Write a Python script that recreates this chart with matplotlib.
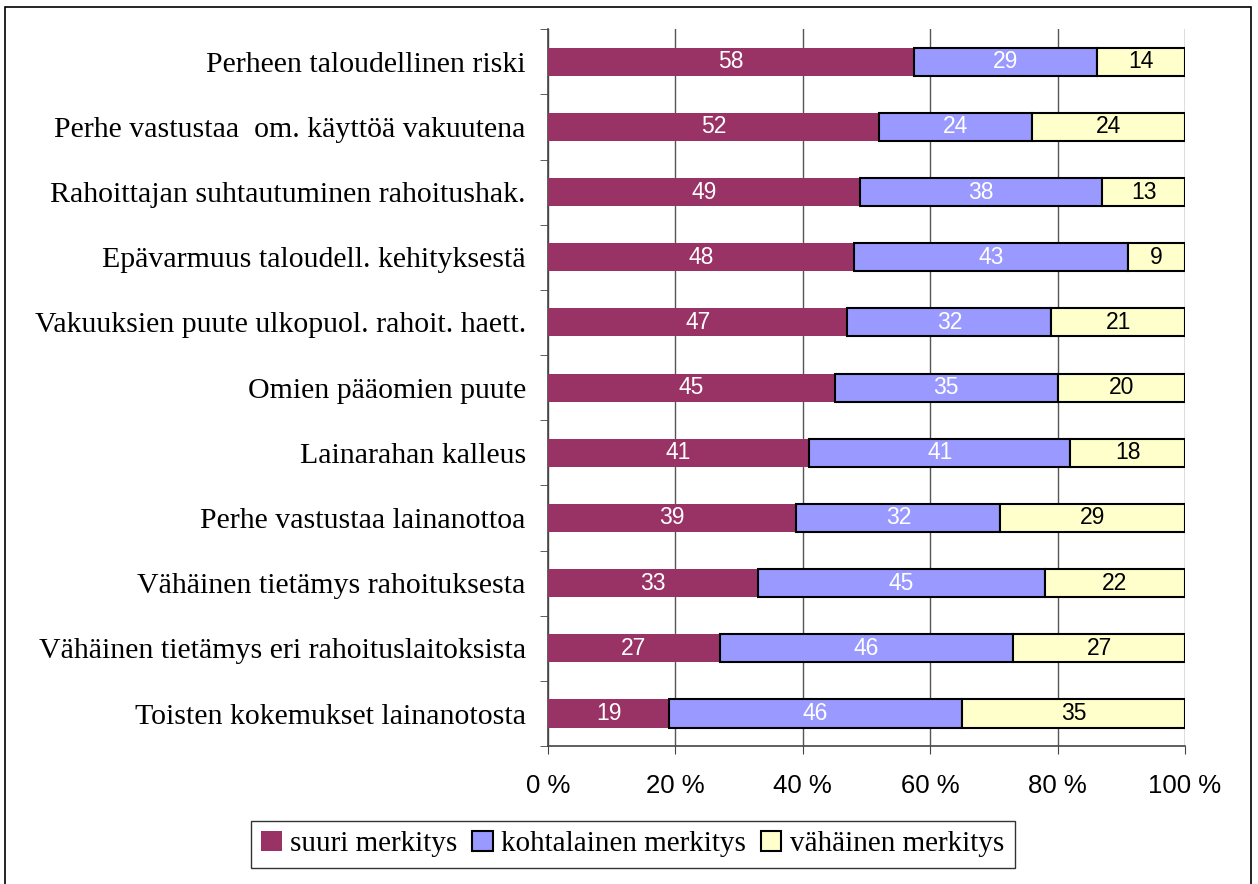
import numpy as np
import matplotlib
matplotlib.use('Agg')
import matplotlib.pyplot as plt
from matplotlib.patches import Rectangle

categories = [
    "Perheen taloudellinen riski",
    "Perhe vastustaa  om. käyttöä vakuutena",
    "Rahoittajan suhtautuminen rahoitushak.",
    "Epävarmuus taloudell. kehityksestä",
    "Vakuuksien puute ulkopuol. rahoit. haett.",
    "Omien pääomien puute",
    "Lainarahan kalleus",
    "Perhe vastustaa lainanottoa",
    "Vähäinen tietämys rahoituksesta",
    "Vähäinen tietämys eri rahoituslaitoksista",
    "Toisten kokemukset lainanotosta",
]
suuri = [58, 52, 49, 48, 47, 45, 41, 39, 33, 27, 19]
kohtalainen = [29, 24, 38, 43, 32, 35, 41, 32, 45, 46, 46]
vahainen = [14, 24, 13, 9, 21, 20, 18, 29, 22, 27, 35]
series_names = ["suuri merkitys", "kohtalainen merkitys", "vähäinen merkitys"]
x_ticks = [0, 20, 40, 60, 80, 100]

colors = ["#993366", "#9999FF", "#FFFFCC"]
edges = ["none", "black", "black"]
text_colors = ["white", "white", "black"]

# bars are drawn as shares of each row total (100 % stacked)
data = np.array([suuri, kohtalainen, vahainen], dtype=float)
shares = data / data.sum(axis=0) * 100

fig = plt.figure(figsize=(12.58, 8.84), dpi=100)
ax = fig.add_axes([0.4356, 0.156, 0.5064, 0.811])

y = np.arange(len(categories))
left = np.zeros(len(categories))
for i in range(3):
    bars = ax.barh(y, shares[i], left=left, height=0.43, color=colors[i],
                   edgecolor=edges[i], linewidth=1.5, label=series_names[i], zorder=3)
    for b, v in zip(bars, data[i]):
        ax.text(b.get_x() + b.get_width() / 2, b.get_y() + b.get_height() / 2,
                "%d" % v, ha='center', va='center', color=text_colors[i],
                fontsize=16.5, family='Liberation Sans', zorder=4)
    left += shares[i]

ax.set_xlim(0, 100)
ax.set_ylim(len(categories) - 0.5, -0.5)
ax.set_xticks(x_ticks)
ax.set_xticklabels(["%d %%" % t for t in x_ticks], family='Liberation Sans', fontsize=18.5)
ax.set_yticks(y)
ax.set_yticklabels(categories, family='Liberation Serif', fontsize=21.5)
ax.set_yticks(np.arange(-0.5, len(categories), 1), minor=True)
ax.tick_params(axis='y', which='major', length=0, pad=16)
ax.tick_params(axis='y', which='minor', length=6, direction='out', color='#444444')
ax.tick_params(axis='x', length=6, direction='out', pad=14, color='#444444')
ax.xaxis.grid(True, color='#555555', linewidth=1, zorder=0)
for s in ['top', 'right']:
    ax.spines[s].set_visible(False)
for s in ['left', 'bottom']:
    ax.spines[s].set_color('#444444')
    ax.spines[s].set_linewidth(1.2)

leg = fig.legend(loc='center', bbox_to_anchor=(0.503, 0.045), ncol=3,
                 frameon=True, fancybox=False, edgecolor='black',
                 prop={'family': 'Liberation Serif', 'size': 21},
                 handlelength=0.7, handleheight=0.7, handletextpad=0.3,
                 columnspacing=0.5, borderpad=0.35)
leg.get_frame().set_linewidth(1)

fig.patches.append(Rectangle((5 / 1258, -0.02), 1246 / 1258, 1.02 - 7 / 884,
                             transform=fig.transFigure, fill=False,
                             edgecolor='black', linewidth=1.2))

fig.savefig('out.png', dpi=100)
